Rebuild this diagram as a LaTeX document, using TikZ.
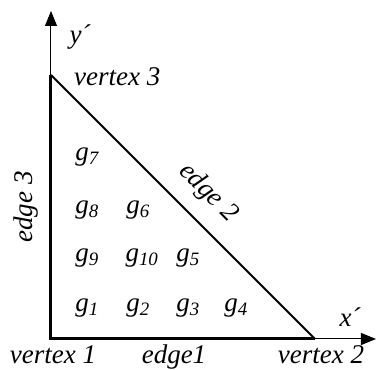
\documentclass[tikz,border=0pt]{standalone}
\usepackage{fontspec}
\setmainfont{Liberation Serif}
\usetikzlibrary{arrows.meta}

\begin{document}
\begin{tikzpicture}[x=1pt,y=1pt,>={Triangle[length=15pt,width=12pt]},
  every node/.style={font=\fontsize{27}{29}\selectfont\itshape,inner sep=0pt}]
  \useasboundingbox (-51,-31) rectangle (325,339);
  % triangle corners and axis ends
  \coordinate (v1) at (0,0);
  \coordinate (v2) at (264,0);
  \coordinate (v3) at (0,264);
  \coordinate (xend) at (325,0);
  \coordinate (yend) at (0,328);
  \draw[->,line width=1pt] (v2) -- (xend);
  \draw[->,line width=1pt] (v3) -- (yend);
  \draw[line width=3pt,line join=miter] (v3) -- (v1) -- (v2);
  \draw[line width=2pt] (v2) -- (v3);

  \node (xlab) at (299,22) {x´};
  \node (ylab) at (29,302) {y´};
  \node[anchor=west] (lv3) at (23,262) {vertex 3};
  \node[anchor=base] (lv1) at (2,-25) {vertex 1};
  \node[anchor=base] (lv2) at (270,-25) {vertex 2};
  \node[anchor=base] (le1) at (123,-25) {edge1};
  \node[rotate=90] (le3) at (-25,132) {edge 3};
  \node[rotate=-45] (le2) at (157,146) {edge 2};

  \node (g1) at (36,31) {g\textsubscript{1}};
  \node (g2) at (87,31) {g\textsubscript{2}};
  \node (g3) at (137,31) {g\textsubscript{3}};
  \node (g4) at (185,31) {g\textsubscript{4}};
  \node (g9) at (36,81) {g\textsubscript{9}};
  \node (g10) at (91,81) {g\textsubscript{10}};
  \node (g5) at (137,81) {g\textsubscript{5}};
  \node (g8) at (36,129) {g\textsubscript{8}};
  \node (g6) at (87,129) {g\textsubscript{6}};
  \node (g7) at (36,182) {g\textsubscript{7}};
\end{tikzpicture}
\end{document}
